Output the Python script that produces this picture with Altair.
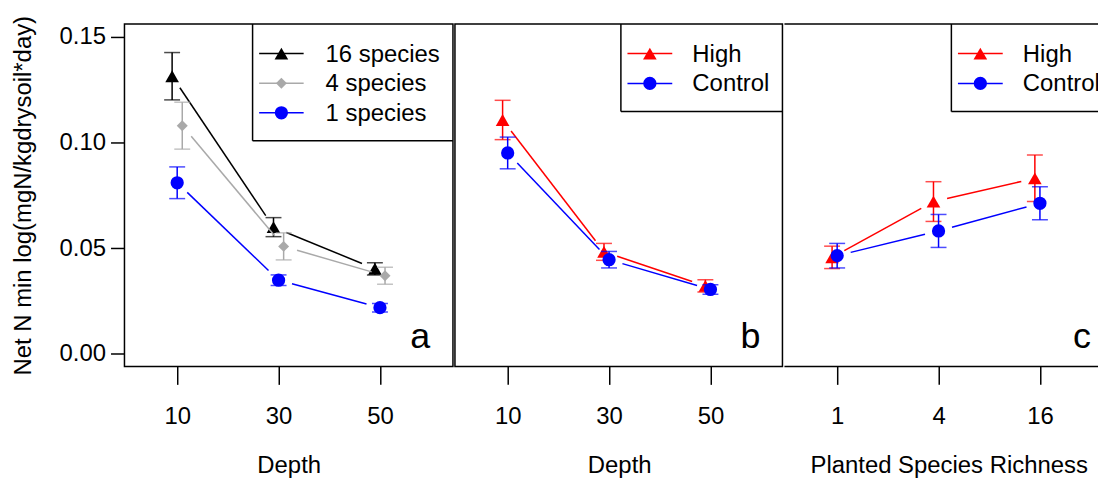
import json
import math
import altair as alt
import pandas as pd

# ---------------- data ----------------
depth_labels = ["10", "30", "50"]
richness_labels = ["1", "4", "16"]
positions = [1, 2, 3]

# panel a : richness levels over depth
a_names = ["16 species", "4 species", "1 species"]
a_colors = ["#000000", "#A9A9A9", "#0000FF"]
a_shapes = ["triangle-up", "diamond", "circle"]
a_offsets = [-0.05, 0.05, 0.0]
a_means = [[0.1313, 0.0599, 0.0402],
           [0.1079, 0.0508, 0.0369],
           [0.0809, 0.0348, 0.0218]]
a_errs = [[0.0112, 0.0045, 0.0029],
          [0.0111, 0.0064, 0.0040],
          [0.0075, 0.0025, 0.0020]]

# panel b : treatment over depth
b_names = ["High", "Control"]
b_colors = ["#FF0000", "#0000FF"]
b_shapes = ["triangle-up", "circle"]
b_offsets = [-0.05, 0.0]
b_means = [[0.1106, 0.0482, 0.0321],
           [0.0950, 0.0445, 0.0304]]
b_errs = [[0.0093, 0.0040, 0.0029],
          [0.0075, 0.0039, 0.0023]]

# panel c : treatment over planted species richness
c_names = ["High", "Control"]
c_colors = ["#FF0000", "#0000FF"]
c_shapes = ["triangle-up", "circle"]
c_offsets = [-0.05, 0.0]
c_means = [[0.0456, 0.0720, 0.0830],
           [0.0464, 0.0581, 0.0712]]
c_errs = [[0.0053, 0.0094, 0.0110],
          [0.0058, 0.0078, 0.0078]]

y_title = "Net N min log(mgN/kgdrysoil*day)"
y_ticks = [0.0, 0.05, 0.10, 0.15]
panel_letters = ["a", "b", "c"]

# ---------------- layout / style ----------------
FONT = "Liberation Sans"
FS = 24
H = 344
XMIN = 0.48
KX = 101.85          # px per x unit
YDOM = [-0.006, 0.156]
KY = H / (YDOM[1] - YDOM[0])
GAP = 14
SIZES = {"triangle-up": 188, "circle": 177, "diamond": 121}
LW = 1.5


def seg_rows(xs, ys):
    rows = []
    for i in range(len(xs) - 1):
        x0, y0, x1, y1 = xs[i], ys[i], xs[i + 1], ys[i + 1]
        L = math.hypot((x1 - x0) * KX, (y1 - y0) * KY)
        if L <= 2 * GAP:
            continue
        f = GAP / L
        rows.append(dict(x=x0 + (x1 - x0) * f, y=y0 + (y1 - y0) * f,
                         x2=x1 - (x1 - x0) * f, y2=y1 - (y1 - y0) * f))
    return pd.DataFrame(rows)


def make_panel(names, colors, shapes, offsets, means, errs, xlabels, xtitle,
               width, letter, leg, show_y, last):
    xmax = XMIN + width / KX
    xaxis = alt.Axis(values=positions, labelExpr=json.dumps(xlabels) + "[datum.value - 1]",
                     title=xtitle, tickSize=18, labelPadding=20, titlePadding=26,
                     domain=False, grid=False, labelFlush=False, titleX=165)
    xs = alt.Scale(domain=[XMIN, xmax], nice=False, zero=False)
    if show_y:
        yaxis = alt.Axis(values=y_ticks, format=".2f", title=y_title, tickSize=14,
                         labelPadding=5, titlePadding=24, domain=False, grid=False)
    else:
        yaxis = None
    ys = alt.Scale(domain=YDOM, nice=False, zero=False)

    def X(f):
        return alt.X(f, type="quantitative", scale=xs, axis=xaxis)

    def Y(f):
        if yaxis is None:
            return alt.Y(f, type="quantitative", scale=ys, axis=None)
        return alt.Y(f, type="quantitative", scale=ys, axis=yaxis)

    layers = []
    for name, col, shp, off, m, e in zip(names, colors, shapes, offsets, means, errs):
        xv = [p + off for p in positions]
        df = pd.DataFrame(dict(x=xv, m=m, lo=[a - b for a, b in zip(m, e)],
                               hi=[a + b for a, b in zip(m, e)], s=name))
        sd = seg_rows(xv, m)
        layers.append(alt.Chart(sd).mark_rule(color=col, strokeWidth=LW).encode(
            x=X("x"), y=Y("y"), x2="x2", y2="y2"))
        layers.append(alt.Chart(df).mark_rule(color=col, strokeWidth=LW).encode(
            x=X("x"), y=Y("lo"), y2="hi"))
        layers.append(alt.Chart(df).mark_tick(color=col, orient="horizontal", size=16,
                                              thickness=LW).encode(x=X("x"), y=Y("lo")))
        layers.append(alt.Chart(df).mark_tick(color=col, orient="horizontal", size=16,
                                              thickness=LW).encode(x=X("x"), y=Y("hi")))
        layers.append(alt.Chart(df).mark_point(color=col, fill=col, filled=True, shape=shp,
                                               size=SIZES[shp], opacity=1).encode(
            x=X("x"), y=Y("m")))

    # legend (drawn as annotation marks)
    one = pd.DataFrame({"k": [0]})
    layers.append(alt.Chart(one).mark_rule(color="black", strokeWidth=LW).encode(
        x=alt.value(leg["left"]), y=alt.value(0), y2=alt.value(leg["bottom"])))
    layers.append(alt.Chart(one).mark_rule(color="black", strokeWidth=LW, clip=True).encode(
        x=alt.value(leg["left"]), x2=alt.value(width), y=alt.value(leg["bottom"])))
    for i, (name, col, shp) in enumerate(zip(names, colors, shapes)):
        ry = leg["rows"][i]
        d1 = pd.DataFrame({"label": [name]})
        layers.append(alt.Chart(d1).mark_rule(color=col, strokeWidth=LW).encode(
            x=alt.value(leg["l1"]), x2=alt.value(leg["l2"]), y=alt.value(ry)))
        layers.append(alt.Chart(d1).mark_point(color=col, fill=col, filled=True, shape=shp,
                                               size=SIZES[shp], opacity=1).encode(
            x=alt.value((leg["l1"] + leg["l2"]) / 2), y=alt.value(ry)))
        layers.append(alt.Chart(d1).mark_text(align="left", baseline="middle", font=FONT,
                                              fontSize=FS, color="black", clip=True).encode(
            x=alt.value(leg["tx"]), y=alt.value(ry + 1), text="label:N"))

    dl = pd.DataFrame({"label": [letter]})
    layers.append(alt.Chart(dl).mark_text(align="right", baseline="alphabetic", font=FONT,
                                          fontSize=36, color="black").encode(
        x=alt.value(leg["letter_x"]), y=alt.value(325), text="label:N"))

    if last:
        layers.append(alt.Chart(one).mark_rule(color="black", strokeWidth=LW).encode(
            x=alt.value(0), x2=alt.value(width), y=alt.value(0)))
        layers.append(alt.Chart(one).mark_rule(color="black", strokeWidth=LW).encode(
            x=alt.value(0), x2=alt.value(width), y=alt.value(H)))

    ch = alt.layer(*layers).properties(width=width, height=H)
    if last:
        ch = ch.properties(view=alt.ViewBackground(strokeOpacity=0))
    return ch


pa = make_panel(a_names, a_colors, a_shapes, a_offsets, a_means, a_errs,
                depth_labels, "Depth", 330, panel_letters[0],
                dict(left=128.7, bottom=117.3, rows=[29.7, 59.5, 89.2], l1=135.3, l2=180,
                     tx=202, letter_x=307), True, False)
pb = make_panel(b_names, b_colors, b_shapes, b_offsets, b_means, b_errs,
                depth_labels, "Depth", 329, panel_letters[1],
                dict(left=166.7, bottom=88, rows=[29.7, 59.7], l1=173.3, l2=218.3,
                     tx=238.5, letter_x=307), False, False)
pc = make_panel(c_names, c_colors, c_shapes, c_offsets, c_means, c_errs,
                richness_labels, "Planted Species Richness", 315, panel_letters[2],
                dict(left=167.7, bottom=88, rows=[29.7, 59.7], l1=174.3, l2=219.3,
                     tx=239.5, letter_x=308), False, True)

chart = alt.hconcat(pa, pb, pc, spacing=0).properties(
    padding={"left": 2, "top": 5, "right": 0, "bottom": 0}
).configure_view(stroke="black", strokeWidth=LW).configure_axis(
    labelFont=FONT, titleFont=FONT, labelFontSize=FS, titleFontSize=FS,
    labelColor="black", titleColor="black", titleFontWeight="normal",
    tickColor="black", tickWidth=LW
)

chart.save("out.html", embed_options={"renderer": "svg", "actions": False})
